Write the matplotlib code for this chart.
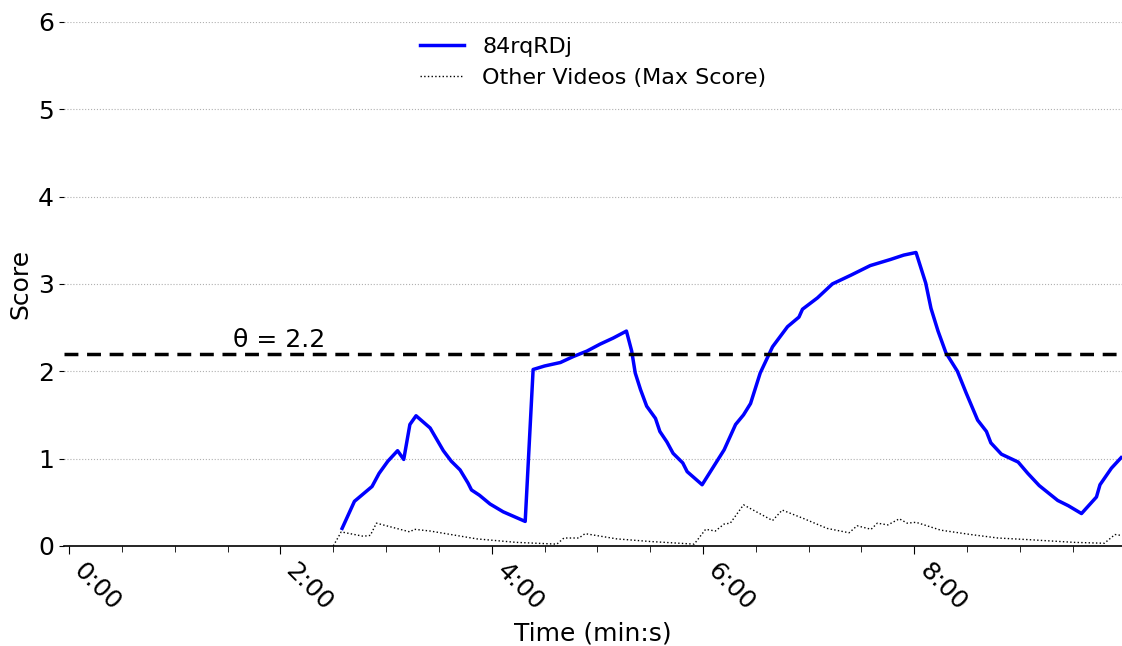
import matplotlib
matplotlib.use('Agg')
import matplotlib.pyplot as plt
import matplotlib.ticker as ticker

# score of the query video (seconds, score)
t_video = [155, 162, 172, 176, 181, 186.5, 190, 193.5, 197, 205, 212.5, 217, 222, 226.5, 228.5,
           233, 239, 246.5, 259, 263.5, 270, 279, 286.5, 294, 301.5, 309, 316.5, 319.5, 321.5,
           324.5, 328, 333, 335.5, 339.5, 343, 348.5, 351, 359.5, 372, 378.5, 383, 387, 392.5,
           399.5, 408, 414.5, 416.5, 425, 433.5, 444, 455, 466.5, 474, 481, 486.5, 489.5, 493.5,
           498, 504.5, 509.5, 516, 521, 523.5, 529.5, 539, 544.5, 551, 561.5, 567.5, 575, 583.5,
           585.5, 592, 597.5]
s_video = [0.20, 0.51, 0.68, 0.83, 0.97, 1.09, 0.99, 1.39, 1.49, 1.35, 1.09, 0.97, 0.87, 0.72, 0.64,
           0.58, 0.48, 0.39, 0.28, 2.02, 2.06, 2.10, 2.17, 2.23, 2.31, 2.38, 2.46, 2.23, 1.98,
           1.79, 1.60, 1.46, 1.31, 1.19, 1.06, 0.95, 0.85, 0.70, 1.10, 1.39, 1.50, 1.63, 1.98,
           2.28, 2.51, 2.62, 2.71, 2.84, 3.00, 3.10, 3.21, 3.28, 3.33, 3.36, 3.01, 2.72, 2.46,
           2.21, 2.00, 1.75, 1.44, 1.31, 1.18, 1.05, 0.96, 0.83, 0.69, 0.52, 0.46, 0.37, 0.56,
           0.70, 0.89, 1.01]

# max score among the other videos
t_other = [150, 154.5, 167, 171, 174.5, 193.5, 196, 205, 231.5, 254, 277, 281, 289.5, 293,
           311, 330, 355, 361.5, 367, 372, 375.5, 383, 399.5, 405, 417.5, 430.5, 443, 447.5,
           455.5, 459, 465, 471.5, 476, 481, 495, 512, 527.5, 546, 571, 588, 594, 597.5]
s_other = [0.0, 0.16, 0.11, 0.12, 0.26, 0.16, 0.19, 0.17, 0.08, 0.04, 0.02, 0.09, 0.09, 0.14,
           0.08, 0.05, 0.02, 0.19, 0.17, 0.25, 0.26, 0.47, 0.29, 0.41, 0.31, 0.20, 0.15, 0.23,
           0.19, 0.26, 0.24, 0.31, 0.26, 0.27, 0.18, 0.13, 0.09, 0.07, 0.04, 0.03, 0.13, 0.12]

theta = 2.2

fig = plt.figure(figsize=(11.22, 6.46), dpi=100)
ax = fig.add_axes([0.057, 0.155, 0.943, 0.811])

ax.plot(t_video, s_video, color='blue', lw=2.5, label='84rqRDj')
ax.plot(t_other, s_other, color='black', lw=1.0, ls=':', label='Other Videos (Max Score)')
ax.axhline(theta, color='black', lw=2.5, ls=(0, (4, 2.5)))
ax.text(93, theta + 0.02, '\u03b8 = 2.2', fontsize=18, va='bottom')

ax.set_xlim(-3, 598)
ax.set_ylim(0, 6)
ax.set_yticks(range(7))
ax.xaxis.set_major_locator(ticker.MultipleLocator(120))
ax.xaxis.set_minor_locator(ticker.MultipleLocator(30))
ax.xaxis.set_major_formatter(ticker.FuncFormatter(lambda v, p: '%d:%02d' % (v // 60, v % 60)))
plt.setp(ax.get_xticklabels(), rotation=-45, ha='left')
ax.tick_params(axis='both', labelsize=18)
ax.tick_params(axis='x', which='major', length=6)
ax.tick_params(axis='x', which='minor', length=4)
ax.grid(axis='y', ls=':', color='#b0b0b0', lw=0.8)

for s in ['top', 'right', 'left']:
    ax.spines[s].set_visible(False)
ax.spines['bottom'].set_linewidth(1.2)

ax.set_xlabel('Time (min:s)', fontsize=18)
ax.set_ylabel('Score', fontsize=18)
ax.legend(loc='upper center', frameon=False, fontsize=16, bbox_to_anchor=(0.5, 1.01))

fig.savefig('out.png', dpi=100)
